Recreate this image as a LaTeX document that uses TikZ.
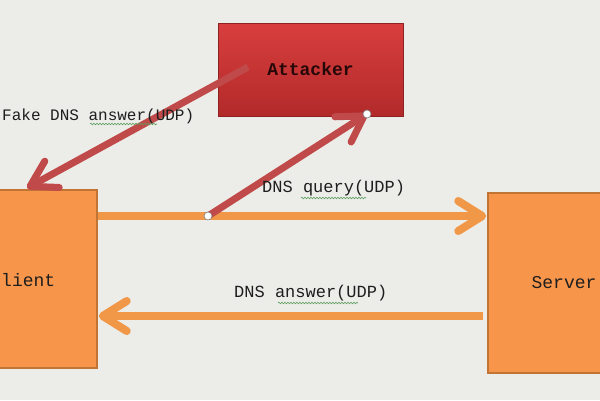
\documentclass[tikz,border=0pt]{standalone}
\usepackage{fontspec}
\setmainfont{Liberation Mono}
\usetikzlibrary{arrows.meta,decorations.pathmorphing}
\definecolor{bg}{HTML}{ECEDE9}
\definecolor{orfill}{HTML}{F7964A}
\definecolor{ordraw}{HTML}{C27434}
\definecolor{orarrow}{HTML}{F19748}
\definecolor{redtop}{HTML}{D93E3E}
\definecolor{redbot}{HTML}{B22A2A}
\definecolor{reddraw}{HTML}{8E2222}
\definecolor{redarrow}{HTML}{C04A4A}
\definecolor{txt}{HTML}{1E1E1E}
\definecolor{squig}{HTML}{5E9E5E}
\tikzset{
  orbox/.style={draw=ordraw, line width=1.5pt, fill=orfill, rectangle, inner sep=0pt, text=txt, font=\fontsize{18}{20}\selectfont},
  redbox/.style={draw=reddraw, line width=1pt, top color=redtop, bottom color=redbot, rectangle, inner sep=0pt, text=txt!70!red!40!black, font=\bfseries\fontsize{18}{20}\selectfont},
  orarr/.style={draw=orarrow, line width=8pt, -{Straight Barb[round,length=24pt,width=30pt]}},
  redarr/.style={draw=redarrow, line width=7pt, -{Straight Barb[round,length=25pt,width=30pt]}},
  lbl/.style={text=txt, inner sep=0pt, font=\fontsize{17}{20}\selectfont},
  dot/.style={circle, fill=white, draw=gray, line width=0.6pt, minimum size=8pt, inner sep=0pt},
  squiggle/.style={draw=squig, line width=0.6pt, decorate, decoration={snake, amplitude=0.8pt, segment length=3pt}}
}
\begin{document}
\begin{tikzpicture}[x=1pt,y=-1pt]
\useasboundingbox (0,0) rectangle (600,400);
\clip (0,0) rectangle (600,400);
\fill[bg] (0,0) rectangle (600,400);

% boxes
\node[redbox, minimum width=185pt, minimum height=93pt] (attacker) at (310.5,69.5) {\raisebox{-3pt}{Attacker}};
\node[orbox, minimum width=151pt, minimum height=178pt] (client) at (21.5,279) {};
\node[orbox, minimum width=152pt, minimum height=180pt] (server) at (564,283) {\raisebox{-10pt}{Server}};
\node[lbl, font=\fontsize{18}{20}\selectfont, anchor=west] (clienttxt) at (1,280) {lient};

% coordinates
\coordinate (qy) at (0,216);
\coordinate (ay) at (0,316);
\coordinate (split) at (208,216);
\coordinate (atk) at (367,114);
\coordinate (fakestart) at (248,67);
\coordinate (faketip) at (27,188);

% orange arrows
\draw[orarr] (client.east |- qy) -- ([xshift=-1pt]server.west |- qy);
\draw[orarr] ([xshift=-4pt]server.west |- ay) -- ([xshift=1pt]client.east |- ay);

% red arrows
\draw[redarr] (fakestart) -- (faketip);
\draw[redarr] (split) -- (atk);
\node[dot] (d1) at (split) {};
\node[dot] (d2) at (atk) {};

% labels
\node[lbl, font=\fontsize{16}{20}\selectfont, anchor=west] (lfake) at (2,116) {Fake DNS answer(UDP)};
\node[lbl, anchor=west] (lquery) at (262,188) {DNS query(UDP)};
\node[lbl, anchor=west] (lans) at (234,293) {DNS answer(UDP)};

% spell-check squiggles
\draw[squiggle] (90,124) -- (157,124);
\draw[squiggle] (301,198) -- (366,198);
\draw[squiggle] (278,303) -- (358,303);
\end{tikzpicture}
\end{document}
